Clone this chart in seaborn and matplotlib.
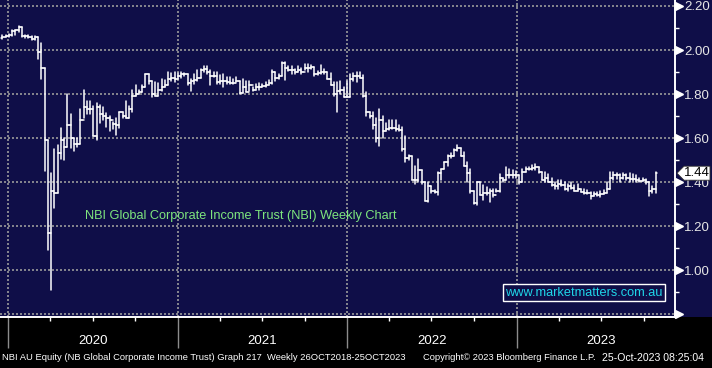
import numpy as np
import pandas as pd
import matplotlib
matplotlib.use("Agg")
import matplotlib.pyplot as plt
import matplotlib.dates as mdates
import matplotlib.transforms as mtransforms
from matplotlib.patches import Polygon, Rectangle
from matplotlib.ticker import FixedLocator, NullFormatter
import seaborn as sns

# ---------------- data (weekly OHLC) ----------------
first_week = "2019-12-20"

highs = [2.07, 2.07, 2.075, 2.09, 2.09, 2.11, 2.105, 2.07, 2.07, 2.065,
         2.065, 2.06, 2.03, 1.92, 1.59, 1.44, 1.55, 1.57, 1.645, 1.60,
         1.80, 1.71, 1.60, 1.60, 1.73, 1.82, 1.77, 1.77, 1.745, 1.76,
         1.75, 1.74, 1.715, 1.70, 1.675, 1.69, 1.72, 1.72, 1.77, 1.745,
         1.82, 1.84, 1.82, 1.84, 1.89, 1.89, 1.86, 1.855, 1.85, 1.87,
         1.865, 1.90, 1.895, 1.90, 1.895, 1.90, 1.895, 1.89, 1.87, 1.89,
         1.91, 1.915, 1.926, 1.926, 1.91, 1.90, 1.90, 1.885, 1.89, 1.877,
         1.877, 1.87, 1.877, 1.86, 1.87, 1.86, 1.86, 1.83, 1.846, 1.85,
         1.846, 1.854, 1.865, 1.91, 1.90, 1.89, 1.946, 1.946, 1.926, 1.926,
         1.915, 1.926, 1.92, 1.935, 1.935, 1.934, 1.925, 1.906, 1.93, 1.914,
         1.90, 1.894, 1.853, 1.853, 1.86, 1.83, 1.86, 1.89, 1.894, 1.90,
         1.90, 1.888, 1.81, 1.72, 1.716, 1.69, 1.73, 1.70, 1.67, 1.68,
         1.68, 1.68, 1.66, 1.65, 1.61, 1.525, 1.52, 1.475, 1.505, 1.455,
         1.40, 1.40, 1.38, 1.365, 1.445, 1.46, 1.49, 1.525, 1.53, 1.55,
         1.57, 1.555, 1.535, 1.49, 1.46, 1.36, 1.40, 1.40, 1.385, 1.377,
         1.37, 1.37, 1.37, 1.437, 1.42, 1.467, 1.46, 1.453, 1.45, 1.43,
         1.46, 1.468, 1.47, 1.476, 1.483, 1.47, 1.445, 1.445, 1.435, 1.42,
         1.40, 1.41, 1.41, 1.40, 1.39, 1.40, 1.385, 1.39, 1.37, 1.37,
         1.365, 1.355, 1.355, 1.355, 1.36, 1.365, 1.40, 1.445, 1.445, 1.44,
         1.435, 1.44, 1.435, 1.44, 1.435, 1.43, 1.42, 1.42, 1.415, 1.40,
         1.38, 1.445]

lows = [2.05, 2.06, 2.06, 2.065, 2.07, 2.08, 2.06, 2.055, 2.055, 2.045,
        2.045, 1.96, 1.87, 1.45, 1.09, 0.91, 1.28, 1.35, 1.505, 1.50,
        1.56, 1.555, 1.54, 1.56, 1.575, 1.69, 1.71, 1.71, 1.61, 1.59,
        1.67, 1.68, 1.65, 1.63, 1.64, 1.615, 1.645, 1.69, 1.69, 1.69,
        1.72, 1.79, 1.80, 1.81, 1.83, 1.845, 1.785, 1.79, 1.79, 1.815,
        1.83, 1.84, 1.86, 1.855, 1.87, 1.875, 1.88, 1.84, 1.815, 1.845,
        1.86, 1.875, 1.90, 1.89, 1.84, 1.877, 1.846, 1.846, 1.83, 1.846,
        1.846, 1.846, 1.854, 1.80, 1.805, 1.81, 1.815, 1.815, 1.82, 1.82,
        1.83, 1.83, 1.84, 1.846, 1.86, 1.87, 1.88, 1.865, 1.905, 1.89,
        1.89, 1.90, 1.89, 1.91, 1.90, 1.914, 1.88, 1.888, 1.89, 1.89,
        1.87, 1.84, 1.79, 1.716, 1.80, 1.785, 1.785, 1.785, 1.86, 1.853,
        1.875, 1.785, 1.70, 1.69, 1.64, 1.58, 1.565, 1.60, 1.633, 1.635,
        1.64, 1.633, 1.633, 1.54, 1.49, 1.50, 1.41, 1.39, 1.40, 1.39,
        1.315, 1.31, 1.35, 1.35, 1.34, 1.41, 1.46, 1.475, 1.51, 1.52,
        1.543, 1.52, 1.475, 1.40, 1.35, 1.30, 1.295, 1.34, 1.32, 1.34,
        1.31, 1.333, 1.355, 1.355, 1.40, 1.41, 1.42, 1.42, 1.42, 1.39,
        1.40, 1.445, 1.453, 1.456, 1.453, 1.44, 1.408, 1.40, 1.40, 1.38,
        1.37, 1.37, 1.38, 1.365, 1.36, 1.37, 1.36, 1.36, 1.355, 1.345,
        1.345, 1.325, 1.335, 1.335, 1.33, 1.345, 1.35, 1.37, 1.41, 1.415,
        1.40, 1.415, 1.41, 1.40, 1.405, 1.40, 1.40, 1.405, 1.39, 1.335,
        1.35, 1.35]

opens = [2.055, 2.06, 2.065, 2.07, 2.085, 2.09, 2.105, 2.065, 2.065, 2.06,
         2.05, 2.06, 1.99, 1.92, 1.59, 1.17, 1.36, 1.35, 1.53, 1.59,
         1.56, 1.66, 1.60, 1.575, 1.575, 1.68, 1.74, 1.73, 1.73, 1.61,
         1.74, 1.71, 1.70, 1.69, 1.68, 1.665, 1.66, 1.72, 1.70, 1.69,
         1.73, 1.79, 1.80, 1.81, 1.83, 1.89, 1.86, 1.80, 1.79, 1.82,
         1.83, 1.84, 1.87, 1.875, 1.87, 1.88, 1.89, 1.89, 1.85, 1.86,
         1.865, 1.875, 1.91, 1.915, 1.90, 1.88, 1.88, 1.855, 1.86, 1.86,
         1.855, 1.85, 1.85, 1.86, 1.805, 1.83, 1.81, 1.84, 1.82, 1.83,
         1.83, 1.835, 1.84, 1.85, 1.90, 1.875, 1.88, 1.94, 1.92, 1.91,
         1.91, 1.90, 1.91, 1.90, 1.92, 1.92, 1.925, 1.89, 1.895, 1.90,
         1.90, 1.87, 1.84, 1.80, 1.815, 1.82, 1.785, 1.785, 1.87, 1.88,
         1.88, 1.875, 1.79, 1.72, 1.70, 1.66, 1.60, 1.68, 1.63, 1.64,
         1.645, 1.645, 1.64, 1.635, 1.55, 1.51, 1.52, 1.41, 1.41, 1.455,
         1.40, 1.315, 1.38, 1.36, 1.355, 1.44, 1.46, 1.49, 1.52, 1.52,
         1.545, 1.555, 1.52, 1.475, 1.44, 1.36, 1.305, 1.40, 1.34, 1.35,
         1.35, 1.36, 1.34, 1.36, 1.42, 1.41, 1.43, 1.43, 1.43, 1.43,
         1.40, 1.445, 1.46, 1.46, 1.465, 1.47, 1.445, 1.41, 1.42, 1.40,
         1.385, 1.38, 1.39, 1.385, 1.37, 1.38, 1.375, 1.36, 1.37, 1.355,
         1.35, 1.35, 1.335, 1.345, 1.34, 1.345, 1.35, 1.37, 1.42, 1.43,
         1.43, 1.42, 1.43, 1.42, 1.415, 1.415, 1.41, 1.405, 1.41, 1.40,
         1.36, 1.37]

closes = [2.06, 2.065, 2.07, 2.085, 2.09, 2.105, 2.065, 2.065, 2.06, 2.05,
          2.06, 1.99, 1.92, 1.59, 1.17, 1.36, 1.35, 1.53, 1.59, 1.56,
          1.66, 1.60, 1.575, 1.575, 1.68, 1.74, 1.73, 1.73, 1.61, 1.74,
          1.71, 1.70, 1.69, 1.68, 1.665, 1.66, 1.72, 1.70, 1.69, 1.73,
          1.79, 1.80, 1.81, 1.83, 1.89, 1.86, 1.80, 1.79, 1.82, 1.83,
          1.84, 1.87, 1.875, 1.87, 1.88, 1.89, 1.89, 1.85, 1.86, 1.865,
          1.875, 1.91, 1.915, 1.90, 1.88, 1.88, 1.855, 1.86, 1.86, 1.855,
          1.85, 1.85, 1.86, 1.805, 1.83, 1.81, 1.84, 1.82, 1.83, 1.83,
          1.835, 1.84, 1.85, 1.90, 1.875, 1.88, 1.94, 1.92, 1.91, 1.91,
          1.90, 1.91, 1.90, 1.92, 1.92, 1.925, 1.89, 1.895, 1.90, 1.90,
          1.87, 1.84, 1.80, 1.815, 1.82, 1.785, 1.785, 1.87, 1.88, 1.88,
          1.875, 1.79, 1.72, 1.70, 1.66, 1.60, 1.68, 1.63, 1.64, 1.645,
          1.645, 1.64, 1.635, 1.55, 1.51, 1.52, 1.41, 1.41, 1.455, 1.40,
          1.315, 1.38, 1.36, 1.355, 1.44, 1.46, 1.49, 1.52, 1.52, 1.545,
          1.555, 1.52, 1.475, 1.44, 1.36, 1.305, 1.40, 1.34, 1.35, 1.35,
          1.36, 1.34, 1.36, 1.42, 1.41, 1.43, 1.43, 1.43, 1.43, 1.40,
          1.445, 1.46, 1.46, 1.465, 1.47, 1.445, 1.41, 1.42, 1.40, 1.385,
          1.38, 1.39, 1.385, 1.37, 1.38, 1.375, 1.36, 1.37, 1.355, 1.35,
          1.35, 1.335, 1.345, 1.34, 1.345, 1.35, 1.37, 1.42, 1.43, 1.43,
          1.42, 1.43, 1.42, 1.415, 1.415, 1.41, 1.405, 1.41, 1.40, 1.36,
          1.37, 1.44]

y_ticks = [0.80, 1.00, 1.20, 1.40, 1.60, 1.80, 2.00, 2.20]
y_tick_labels = ["", "1.00", "1.20", "1.40", "1.60", "1.80", "2.00", "2.20"]
y_minor_ticks = [0.90, 1.10, 1.30, 1.50, 1.70, 1.90, 2.10]
year_labels = ["2020", "2021", "2022", "2023"]
last_price_label = "1.44"
chart_title = "NBI Global Corporate Income Trust (NBI) Weekly Chart"
site_label = "www.marketmatters.com.au"
footer_left = "NBI AU Equity (NB Global Corporate Income Trust) Graph 217  Weekly 26OCT2018-25OCT2023"
footer_mid = "Copyright\u00a9 2023 Bloomberg Finance L.P."
footer_right = "25-Oct-2023 08:25:04"

dates = pd.date_range(first_week, periods=len(closes), freq="7D")

# ---------------- style ----------------
NAVY = "#0f0e48"
GRID = "#9a9a9a"
sns.set_theme(style="dark")
plt.rcParams["font.family"] = ["Liberation Sans", "DejaVu Sans"]

W, H = 712, 368
AX_R, AX_B = 675, 317  # pixel right edge and bottom edge of plot area

fig = plt.figure(figsize=(W / 100, H / 100), dpi=100, facecolor="black")
fig.patches.append(Rectangle((0, (H - AX_B) / H), 1, AX_B / H, transform=fig.transFigure,
                             facecolor=NAVY, edgecolor="none", zorder=-10))
ax = fig.add_axes([0, (H - AX_B) / H, AX_R / W, AX_B / H])
ax.set_facecolor(NAVY)

# ---------------- OHLC bars drawn with seaborn ----------------
half = pd.Timedelta(days=3.5)
rows = []
for i, (d, o, h, l, c) in enumerate(zip(dates, opens, highs, lows, closes)):
    rows += [(f"r{i}", d, l), (f"r{i}", d, h)]
    rows += [(f"o{i}", d - half, o), (f"o{i}", d, o)]
    rows += [(f"c{i}", d, c), (f"c{i}", d + half, c)]
df = pd.DataFrame(rows, columns=["unit", "date", "price"])
sns.lineplot(data=df, x="date", y="price", units="unit", estimator=None,
             color="white", lw=1.1, ax=ax, sort=False, legend=False)

# ---------------- axes limits ----------------
px_per_year = 169.5
x0 = pd.Timestamp("2020-01-01") - pd.Timedelta(days=8 / px_per_year * 365.25)
x1 = pd.Timestamp("2023-01-01") + pd.Timedelta(days=(AX_R - 517) / px_per_year * 365.25)
ax.set_xlim(x0, x1)
ax.set_ylim(2.20 - (AX_B - 6) / 220, 2.20 + 6 / 220)
ax.set_xlabel("")
ax.set_ylabel("")

# x axis
ax.xaxis.set_major_locator(mdates.YearLocator())
ax.xaxis.set_minor_locator(mdates.MonthLocator(bymonth=[4, 7, 10]))
ax.xaxis.set_major_formatter(NullFormatter())
ax.xaxis.set_minor_formatter(NullFormatter())
ax.tick_params(axis="x", which="major", length=22, color="#8c8c8c", width=1.0,
               direction="out", bottom=True)
ax.tick_params(axis="x", which="minor", length=3, color="white", width=1.0,
               direction="out", bottom=True)

# y axis on the right
ax.yaxis.tick_right()
ax.yaxis.set_major_locator(FixedLocator(y_ticks))
ax.set_yticklabels(y_tick_labels)
ax.yaxis.set_minor_locator(FixedLocator(y_minor_ticks))
ax.tick_params(axis="y", which="major", length=0, pad=6.5, labelsize=9.5,
               labelcolor="#e6e6e6", right=True, left=False)
ax.tick_params(axis="y", which="minor", length=3, color="white", width=1.0,
               direction="out", right=True, left=False)

# dotted grid
ax.grid(True, which="major", axis="both", color=GRID, lw=1.2, linestyle=(0, (1.2, 1.2)))
ax.set_axisbelow(True)

for s in ["top", "left"]:
    ax.spines[s].set_visible(False)
for s in ["bottom", "right"]:
    ax.spines[s].set_visible(True)
    ax.spines[s].set_color("white")
    ax.spines[s].set_linewidth(1.4)

# pointer triangles at major y ticks
tri_tr = ax.get_yaxis_transform() + mtransforms.ScaledTranslation(4 / 100, 0, fig.dpi_scale_trans)
ax.plot(np.ones(len(y_ticks)), y_ticks, transform=tri_tr, ls="none", marker=">",
        ms=5.5, color="white", mec="white", clip_on=False, zorder=6)

# year labels
for lab in year_labels:
    mid = mdates.date2num(pd.Timestamp(f"{lab}-07-02"))
    ax.text(mid, -24 / AX_B, lab, transform=ax.get_xaxis_transform(), ha="center",
            va="center", color="white", fontsize=9.5, clip_on=False)

# chart title (green)
ax.text(85 / AX_R, (AX_B - 216.5) / AX_B, chart_title, transform=ax.transAxes,
        ha="left", va="center", color="#7ee67e", fontsize=9.2)

# website box
ax.text(584 / AX_R, (AX_B - 292.5) / AX_B, site_label, transform=ax.transAxes,
        ha="center", va="center", color="#1fd6e8", fontsize=9.2, zorder=7,
        bbox=dict(boxstyle="square,pad=0.22", facecolor=NAVY, edgecolor="white", lw=1.0))

# last price tag
last = closes[-1]
tag_tr = fig.dpi_scale_trans + mtransforms.ScaledTranslation(1.0, last, ax.get_yaxis_transform())
tag = Polygon(np.array([(2, 0), (9, 7), (35, 7), (35, -7), (9, -7)]) / 100,
              closed=True, transform=tag_tr, facecolor="white", edgecolor="#333333",
              lw=0.6, clip_on=False, zorder=8)
ax.add_artist(tag)
ax.text(22 / 100, 0, last_price_label, transform=tag_tr, ha="center", va="center",
        color="black", fontsize=9.5, zorder=9, clip_on=False)

# footer
foot_y = (H - 358) / H
fig.text(2 / W, foot_y, footer_left, ha="left", va="center", color="white", fontsize=6.75)
fig.text(423 / W, foot_y, footer_mid, ha="left", va="center", color="white", fontsize=6.75)
fig.text(602 / W, foot_y, footer_right, ha="left", va="center", color="white", fontsize=7.6)

fig.savefig("out.png", dpi=100, facecolor="black")
